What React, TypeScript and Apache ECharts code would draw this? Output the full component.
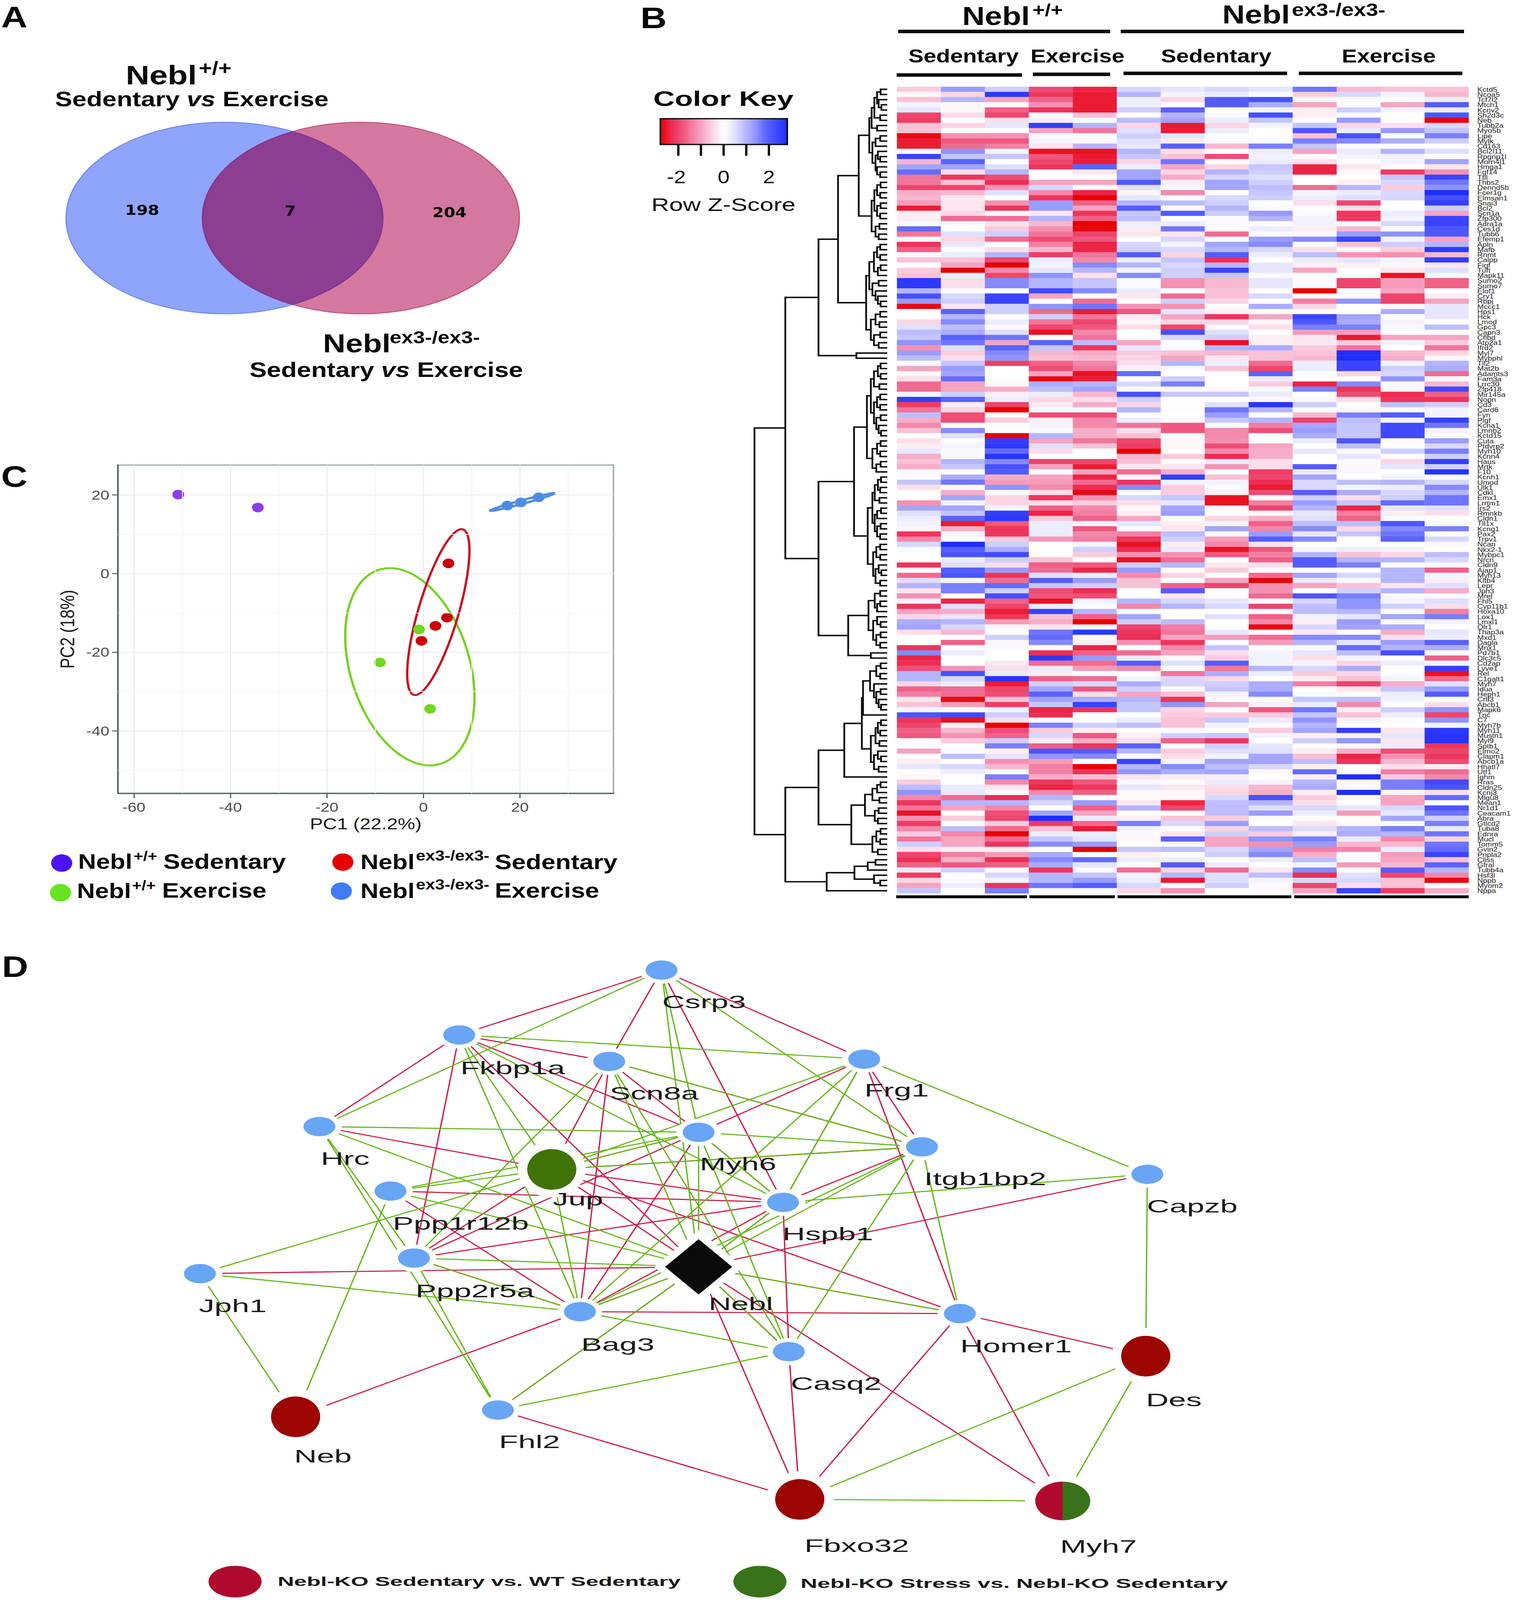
import React, { useEffect, useRef } from "react";
import * as echarts from "echarts";

const W = 3877;
const H = 4961;
const SANS = "Liberation Sans";

// Panel A
const vennCounts = ["198", "7", "204"];

// Panel C: PCA scores [PC1, PC2]
const pcaSedWT = [[-50.8, 20.1], [-34.3, 16.8]];
const pcaExWT = [[-0.9, -14.2], [-9, -22.6], [1.4, -34.4]];
const pcaSedKO = [[5.2, 2.6], [4.9, -11.2], [2.5, -13.3], [-0.4, -17.1]];
const pcaExKO = [[17.4, 17.3], [20.2, 18.1], [23.9, 19.4]];
// confidence ellipses: centre x, centre y, x half extent, y half extent, phase (deg)
const ellipseSedKO = [3.1, -9.8, 6.45, 21.1, 42];
const ellipseExWT = [-2.8, -23.7, 13.4, 25.1, 108];
const ellipseExKO = [20.5, 18.2, 6.65, 2.25, 12];
const pcaTicksX = [-60, -40, -20, 0, 20];
const pcaTicksY = [-40, -20, 0, 20];
const pcaMinorX = [-50, -30, -10, 10, 30];
const pcaMinorY = [-50, -30, -10, 10];

// Panel B: heat map
const geneLabels = [
  "Kctd5","Ncoa5","Tcf7l2","Mtch1","Kcnv2","Sh2d3c","Neb","Tubb2a","Myo5b","Lipe","Mylk","Cd163","Bcl2l11","Rpgrip1l","Morn4l1","Hmga1","Fgf14","Ttll","Thbs2","Dennd5b","Fcer1g","Elmsan1","Snai3","Bcl2","Scn1a","Zfp300",
  "Adra1a","Ces1d","Tubb6","Efemp1","Apln","Mafb","Rnmt","Calpp","Figf","Tuft","Mapk11","Sumo2","Sumo7","Elof1","Cry1","Rbpj","Mccc1","Hps1","Hck","Lmod","Gpc3","Capn3","Cflbd","Atp2a1","Ifrd2","Myl7",
  "Mybphl","Tll2","Mat2b","Adamts3","Fam3a","Lrrc30","Zfp418","Mir145a","Nopn","Cd3","Card6","Fyn","Pigf","Kcna1","Lmnb2","Kctd15","Cuta","Ptdvrp2","Myh10","Kcnn4","Haus","Mrtk","F10","Kcnh1",
  "Umod","Ulk1","Cdkl","Emx1","Lrrtm1","Irs2","Rmnkb","Cldn1","Tll1x","Kcnq1","Pax2","Trpv1","Ncan","Nkx2-1","Mybpc1","Nrcn","Cldn9","Ajap1","Myh13","Kltb4","Lepr","Jph3","Mrel","Fhl5","Cyp11b1","Hoxa10",
  "Lox1","Lmxl1","Olr1","Thap3a","Mxd1","Dagla","Mnx1","Pd7b1","Dlc3c5","Cd2ap","Lyve1","Rel","C1galt1","Myh7","Idua","Heph1","Crlf3","Abcb1","Mapk6","Tnc","C7","Myh7b","Myh11","Mustn1","Myl9","Sptb1",
  "Elmo2","Clapm1","Abcb1a","Hhatl7","Utf1","Ighm","Rras","Cldn25","Kcnj3","Mlgu8","Mean1","Nr1d1","Ceacam1","Abra","Gtlcd2","Tuba8","Ednra","Mucl","Tomm5","Gvin2","Pnpla2","Cliss","Gfral","Tubb4a","Hsf3l","Nppb","Myom2","Nppa",
];
const columnLabels = ["1","2","3","4","5","6","7","8","9","10","11","12","13"];
const heatValues = [
[-.6,1.3,.7,-1.9,-2.4,.6,.4,.6,.4,1.7,-.8,-.7,-.7],
[-.1,-.5,2.6,-2.2,-2.5,1,.2,.3,.1,-.6,.6,.2,-.8],
[-.7,1,-1,-1.7,-2.5,.3,-.5,2,2.2,-.1,.1,0,.3],
[.2,-.1,-.1,-1.2,-2.5,.3,0,2,1.1,-1,0,-1,2],
[.4,-.1,-1.7,-2.2,-2.5,.7,1.9,0,.2,-.2,.7,.2,.3],
[-2,-.4,-2,0,-.7,0,1,.1,2.2,-.2,0,0,2.1],
[-2.1,.05,-.4,-.2,.05,.9,1.2,.3,.8,0,1.3,0,-3],
[-.7,-.5,.4,2.5,1,-.5,-2.5,-.5,.2,.8,-.5,-.4,.6],
[-.7,0,0,-1,-1.5,.5,-2.5,.3,0,2.1,.3,1.3,.8],
[-2.7,-1.2,-1.2,.1,0,.7,.4,0,0,-.7,2.2,.05,1.6],
[-2.5,-1.8,-1.8,.2,-.1,.5,-.2,.1,.1,1.6,1.5,1.1,.7],
[-2.5,-1.6,-1.4,-.3,1,.4,1.9,-.8,1.6,.8,.1,0,0],
[.1,1.4,.2,-2.6,-2.6,1,-.4,-.05,.3,-1,.3,1,.5],
[2.4,.8,.8,-1.8,-2.5,.8,-.7,-1.9,.2,-.05,.2,.2,0],
[-.8,1.9,0,-2,-2.5,-.5,1.7,0,.3,-.4,0,.2,1.2],
[1.2,1.2,.5,-2.2,1.9,.3,-1,-.5,.8,-2.4,-.3,-.05,-.3],
[1.8,-.4,1,0,-.3,1.2,-.5,1,.7,-2.4,-.1,-2.1,-1.2],
[-1.5,-2.2,-1.9,0,0,1.2,-.9,.6,.5,0,0,.8,2.4],
[-1.5,-.7,-2.3,-1,-1,2.1,-.2,1.2,.7,0,-.2,.6,1.7],
[-2,-2,-1.2,.6,0,.5,.1,1.2,.9,-1.6,1,-.6,1.4],
[-.9,-.8,.5,-1.3,-2.4,-.1,-1.3,0,.8,.2,.3,.6,2.8],
[-.8,-.3,0,-2.2,-2.9,.4,0,.6,.7,.3,.5,.6,2.2],
[-1.1,-.3,-1.2,1.3,-1.7,1,.9,.7,0,-.4,-2,0,2.5],
[-2.5,-.3,-2.2,1.3,-1,2,0,1,.1,0,-.4,0,.7],
[-.2,-.5,.2,-.3,-2.2,.8,2,.7,1.3,.1,-2.2,.3,-1],
[-.2,-1.6,-1.6,1,-1.7,.9,0,.1,1,.2,-2.1,.2,2.4],
[.1,-.1,-.4,-.8,-3,.3,.3,.1,-.05,.2,-.1,.6,2.4],
[1.8,0,-.6,-1.2,-2.7,-.2,1.7,0,.3,-.2,-.8,0,2.1],
[-1.5,.5,.7,-1.5,-2,-.3,-.3,-1.6,.1,.1,1.3,1.4,2.1],
[.1,-.5,-1.6,-1.9,-1.8,0,.6,0,1.3,1.5,2.4,.2,-1],
[-2.2,.4,0,-1.4,-2.4,.6,.2,1.2,1.5,0,-.7,.7,1],
[-1.7,.05,-.4,-.8,-2.4,.7,.6,1,.6,-.4,-.1,-.6,2.6],
[.1,.3,1,-2.1,-1.5,2,-.5,2,.3,.9,-1.2,-1.2,-.8],
[-.7,-.7,-2,.3,-1.3,.3,.8,-2.3,0,.3,.4,.2,2.5],
[0,-1,-3.2,.2,1.5,1,.6,1,.4,-.2,-.2,-.1,-.3],
[-.6,-2.8,-1.3,.4,1,.2,.7,2.4,.4,-1,0,-.3,.5],
[-.7,.3,-2,1.4,-.4,1.5,.7,.8,.1,0,0,-2.6,-.1],
[2.6,-.4,1.5,1,.8,.1,-1.2,-.8,.4,.1,-2,-1.1,-1.7],
[2.6,-.4,1.5,1,.8,.1,-1.2,-.8,.4,.1,-2,-1.1,-1.7],
[1,-.05,0,2.3,1.5,.3,0,-.7,0,-3,0,-1,0],
[2.2,.6,2.4,-1,0,-.3,-1.6,-.7,.6,-.1,-.05,-2,-.2],
[1.3,.7,2.4,-.05,-1.6,-.05,.7,-.5,0,-1.4,1.4,-2,-1],
[-2.7,-.3,.7,1.4,1.7,-1.2,-1.2,-.05,1.1,-.5,0,-.1,.4],
[0,1.9,.7,-1.6,-2.5,-1.8,.4,-.2,0,0,0,1.1,.4],
[0,1,0,.7,-1.5,-.2,-1,-2.2,-1,2.4,1.2,0,.4],
[-.5,1.5,.3,-1.5,-2,-.1,-.5,-.5,-.1,2.1,1.1,.2,0],
[.5,.9,-.05,-2,-1.8,-.4,-2,.1,-.4,1.6,1.6,.1,.9],
[.9,1.1,.5,-2.6,-1.3,0,2.2,.5,0,-1.1,-1.1,0,0],
[.8,1.9,1.7,0,-1.5,0,.6,.7,-.2,-.3,-2.5,-1,-1],
[1.4,1.7,-1,1.9,.9,-1,0,-2.6,-.2,-.3,-.6,.2,-.6],
[-1.2,.5,1.9,.8,-2.2,.4,.1,1,1.1,-.6,-1.5,0,-1.5],
[1.3,-.6,1.5,-.8,-.9,-.6,-.7,-.8,-.7,-.7,2.8,-.8,-.5],
[.9,-.4,1.4,-.7,-.8,-.5,-1,-.3,-.7,-.8,2.9,-.9,-.1],
[-.05,.8,-2.1,-1.7,-1.3,-.4,1,.3,-1.6,.3,2.4,.2,1],
[-1,1.3,0,-1.9,-1.5,.2,.1,-.7,-2,.3,2.4,.7,1.1],
[-.1,1.2,0,-1,-2.6,1.8,0,0,1.9,0,-.5,.6,-1.6],
[-.4,1.8,.05,-2.7,-2.5,.05,.7,0,.3,0,0,1.4,.1],
[-1.6,-1,-.1,1.1,1,.6,1.6,0,-.6,-2.4,1.5,.1,-.8],
[-1.6,-1,-.9,.9,1.2,.05,-.1,-.1,.1,1.6,-2.2,-.1,2.3],
[.2,.7,-.2,.3,-.8,2.2,.8,.8,.3,0,-1.9,-2.3,-1.7],
[2.5,1.9,.3,-.5,-.4,.7,0,0,-.1,.1,-.4,-2.2,-2.2],
[-2.1,-.2,-2,-.3,-.9,-.5,0,.5,2.7,.7,0,.9,.7],
[-1.5,-.5,-3,.1,.1,1,.05,1.7,1,0,.1,.05,.2],
[.9,-1.9,0,-1.9,-1.9,0,0,1.3,0,-.8,1.6,2,.2],
[-.9,-1.9,-.6,-.2,-1.3,.3,.05,.8,1,-2,.9,.2,2.5],
[-1.3,0,.05,.2,-1.3,-1.5,-1.8,.05,-1.4,1.2,.8,2.3,1.7],
[-.7,1.5,0,.1,-.9,-.4,-1.8,-1.3,-1.9,1.3,.8,2.3,.2],
[0,.5,-2.8,1,-.9,-.7,-.1,-1.3,0,1.1,.8,2.3,0],
[-.4,0,2.5,-1,-1.5,-2,-.1,-1.2,0,.3,2.1,-.05,1.3],
[-.2,.2,2.6,.5,-.7,-2.1,-.1,-1.9,-1,0,.9,0,.6],
[.4,.1,1.8,-.4,0,-3,-.05,-1.3,-.9,.4,.1,.7,1.6],
[-.9,.1,2.7,0,0,-.8,-.6,-2.3,-.9,0,.4,0,.7],
[-.7,1,1.5,-2,-2,-.7,-.05,.3,-.4,0,.1,-.5,2.5],
[-.9,.8,2.2,-1,-2.5,-.3,-.3,-1.2,-.4,2,-.1,.4,.7],
[-.1,0,2,.1,-1,-1.6,-.9,-.05,-2.1,.3,.1,0,2.7],
[0,1.1,-.9,-1,-2.4,.1,2.5,-.7,-2,1.2,0,.2,.1],
[.8,1.7,-1.1,-1.1,-1.6,-2.2,.2,.2,-2.3,.6,.9,1,.6],
[-.4,.1,1.4,-1.3,-2.3,1.5,-.6,.1,-2.5,.6,.2,.3,1.5],
[0,-.9,.1,-.4,-2.7,0,-.6,.2,-1.9,2,1.1,.6,1],
[0,1.2,-.5,-2.2,-1.2,.6,.8,-2.6,0,.7,-.4,.7,1.7],
[-1.2,.2,-.5,-.4,-.6,-.4,.4,-2.6,-1.4,1.3,.8,1.8,1.7],
[1.2,1.2,.2,-1.7,-1.3,-.1,1.2,-.1,-2,1,-2.4,.4,.5],
[.5,.8,2.5,-2.4,-1.4,-.2,1.3,0,-.1,.4,-1.4,-.2,-.4],
[.3,1.9,2.6,-.6,-1.7,-1,0,-.5,-.9,.5,-1.7,.1,0],
[.2,-2.5,-1.8,.3,.1,.4,-.2,.2,-1.7,.9,.9,2.1,.1],
[-.1,-.9,-2.2,.3,-1.8,.1,-.3,1.2,-1.3,1.5,-.5,1.5,1.6],
[-2.2,.2,-2.2,.3,-1.3,-1.4,.9,.1,1.3,.4,.8,1.7,0],
[-1.3,.05,-.6,-1.1,-1.4,-2.2,.7,-1.1,2,1.5,0,1.9,.6],
[.6,2.9,.7,0,.2,-2.6,-.2,-1.3,-.3,0,0,0,-.1],
[.1,2,1.1,0,.7,-2.3,.3,-2.6,-1.8,.2,.3,.2,0],
[0,2.2,2.3,-.05,-.6,-1.2,-1.2,-1.8,-1.4,1,-.7,-.5,.9],
[0,.3,.7,-.7,0,-2.6,-1.6,0,-1.7,2,1,1,.6],
[-2.2,.5,-.4,-1.7,-1.8,.7,1,-.3,-.4,2,1.6,.1,.1],
[0,2,1.3,-1.6,-2.4,1.3,-.05,-.6,0,0,0,1,-1.7],
[-1.6,2.1,-2.2,.5,.3,-1.3,-.5,0,-1.6,1.2,.6,1,.2],
[.5,.1,-1.6,2,1.3,-.7,0,-1,-2.8,.3,.1,1,-.2],
[1,1.6,1.8,.8,.7,-.7,-1.7,-2,-1.2,-1,-.7,-.3,.5],
[-.3,1.6,.7,-1.9,-2.3,0,2,0,-1.2,0,.7,1,-.9],
[-1.2,0,2.2,-1.8,-1.9,0,-.3,-.05,-1.6,2.1,1.6,.1,.1],
[.2,-2.4,-1.7,-2.6,.2,1,.6,.4,0,.6,1.4,.2,.5],
[-2.2,.5,-2,.3,.05,-1.3,1,.6,-2,.9,1.4,.7,-.4],
[-1,-.9,-2.5,2.4,1,0,0,0,0,.9,1,.1,-1.4],
[-.5,.4,-2.2,-.7,-1.7,1.2,0,.5,-1.7,.2,.4,1.2,1.6],
[1.1,1,-1.1,-.9,-2.9,.7,.9,0,-1.3,-.2,1.3,.1,.2],
[1.2,.6,.1,-.3,.1,-2,-1.4,0,-2.7,.6,1.2,1.1,0],
[-.4,-.8,0,1.7,2.6,-2.2,-1.5,.4,0,-.3,0,-.9,.4],
[0,0,.7,1.8,-.05,-2.3,-1,-1.1,-1.6,1.5,1.5,-.4,.3],
[0,-1.7,-.1,1.5,-.2,-1.2,-2.2,.05,-1.1,1,.4,1.3,1.9],
[-2.2,0,.1,0,-2.4,0,-1.3,.8,0,.1,1.8,1,1.1],
[1.5,.3,0,-2.3,-1.7,-1.6,-1,-.4,.2,.4,.9,2.2,0],
[-2.4,0,0,2.6,1.3,.3,-.1,-.6,.2,-.4,.2,0,-1.7],
[-2.3,0,-.3,-1.6,-1.6,2,.5,2,.2,.2,-.5,.3,.2],
[-1.9,-1.2,-.4,.3,-1.1,-1.3,0,-1.5,1,.6,1.1,0,2.5],
[1,2.2,.3,-.2,0,0,-1.5,1.1,.3,-.6,-.5,0,-2.6],
[1,.6,2.7,-1.7,-1.6,.2,.6,-.5,0,-.2,-.7,.2,-1.6],
[-.5,.3,-2.5,.7,.6,1.1,.6,.7,1.1,-1.4,-2,-.9,.5],
[-1.7,-1.6,-2,1.2,-1.8,.7,-.1,.8,1.1,0,-.3,.8,1.3],
[-1.4,-1.6,-1.9,1.9,-.4,-1,-.7,.2,1.5,.1,0,.3,2],
[-.3,-2.7,-.7,1.2,1.1,1,-2.2,0,0,.8,.9,.2,0],
[-.7,-1.1,-2.1,.8,2.4,.8,1.4,-1,.2,.3,-1.3,0,-.4],
[.2,0,.2,-2.4,-2.2,.8,-.5,0,-1.8,1.7,-.2,.7,1.4],
[2.1,2.3,.7,-2.3,0,0,-.6,-.6,-.6,.8,-.7,.3,-2],
[-2.2,-2.6,-.4,.05,0,.3,-.7,.8,.3,1.4,.2,.05,1.4],
[-2,-.2,-2.9,1.6,.7,.9,-.7,.2,.1,1,0,0,.2],
[-1.7,-.8,-1.9,-.6,-.2,0,.05,0,-.6,1.2,2.5,-.3,2.6],
[-1.8,-1.2,-1.7,.6,-1.8,-.2,.7,.8,.2,-.2,.2,.4,2.7],
[0,-.6,.7,-.2,-.9,-.4,-1.7,-2.2,0,.7,1.4,-.3,2.7],
[0,.05,1.6,-1.7,-2.2,1.9,.1,.7,.4,0,-.1,.3,-2.2],
[-1,.05,-.2,2.1,2,1,-.6,.5,.5,-.2,-.9,-1.9,-2],
[0,.9,.4,1.4,1.5,.1,-.4,.2,1.2,-.7,-2.4,-1.2,-2.2],
[-.2,0,-1.2,-1.1,0,2.4,.2,1.2,1.2,.9,-2.2,-.8,-1.9],
[.4,.6,-.8,-1.4,-3,1,1.5,.9,.6,-.2,0,-.4,-.2],
[-.05,.3,.05,-1.4,-2.2,1.4,1.1,1.2,-.1,1.8,-.1,-1.4,-1.6],
[-.1,-.05,1.6,-.9,-.7,-.3,-.2,-.2,0,-.2,2.9,-.6,-1.3],
[-.6,0,-1.3,-2.2,-1.8,.1,.1,.3,.2,1,-.1,1.6,2.3],
[.9,.3,-.3,-2.4,-2.2,.4,-.3,-.4,-.8,1.1,0,1.6,2.1],
[1.4,.4,.1,-1.3,-1.7,-.1,-.1,-.5,-.9,-.2,2.8,-.1,-.4],
[-1.3,-1.6,-2.3,1,.1,-.05,-.1,.6,2.2,-.6,.1,-1,1.8],
[-2.2,1,1,.6,1.3,-.3,-2.4,.9,1,-.4,0,-1,0],
[-1.5,-1,-1.3,-.05,-1.7,1,-2,.9,.5,.6,.4,.6,2.1],
[-2.6,0,-1.9,1.2,-1,0,0,.9,1.3,.3,-1.1,.4,1.7],
[-1.2,-.6,-2,2.8,.3,-.2,-.7,-.6,-.05,-.05,0,1.2,.7],
[-2.1,0,-.6,-2.1,-1.6,1.6,.6,1.3,0,-.3,.1,.1,1.6],
[-1.3,.9,-1.6,-.7,-2.5,.2,-.05,-.5,.9,.5,1,1.6,.3],
[-.6,-1.3,-3,.3,.3,.1,-.3,.7,-.6,-.2,1.1,1,1.7],
[-1.5,-1,-1.6,.8,.4,-.1,1.9,-1,1.4,1.6,.3,-1.3,-.5],
[.7,-1,-2.2,1.5,1.3,0,.1,-1,-1.2,1.3,-.8,-.8,1.7],
[-.4,-.2,-.2,0,-2.8,.8,.9,.6,1.2,-1.4,-1.3,.3,1.8],
[-2,-1.4,-1.1,1.1,0,-.2,.05,.7,1.5,-.9,0,-1.1,2.4],
[-2.3,-.9,-2.3,1.5,1.8,.3,.3,0,.3,.9,.1,-1,-.7],
[-1.7,-1.8,-1.7,1.1,.4,0,2,.3,0,.2,-1.1,-.8,1.9],
[.3,.7,0,-2.2,-.05,-1.6,-.5,-1.6,-.3,1.5,0,2,1],
[-2.1,0,.6,1,.8,.2,1,.5,.9,-2.3,.5,-2,-1.3],
[-.5,.1,.2,1,1.3,.3,-2.5,.5,.2,.6,.6,-.7,-2.7],
[-1,.3,-2.2,1.7,2,.6,-.05,.7,.1,-2,-.4,-.7,0],
[.8,0,1.6,.05,.1,-.5,-1.2,0,-.1,-1,2.4,-2.1,-.9],
];
const heatRamp = ["#e60000","#ee2a50","#ee5078","#f27fa3","#f6aac6","#fbd8e6","#ffffff","#e2e2ff","#baBaff","#9094ff","#5c64ff","#3f48ff","#1e2eff"];
const keyTicks = [-2, -1, 0, 1, 2];
const keyLabels = [-2, 0, 2];

// Row dendrogram: [height, left, right]; a leaf is a 1-based row number
const cluster1 = [46,[40,[33,[26,[17,1,2],[22,3,[15,4,5]]],[18,6,7]],[26,8,9]],[38,[30,[18,10,11],12],[30,[24,13,[18,14,15]],[26,16,[18,17,18]]]]];
const cluster2 = [40,[33,[26,[17,19,20],[18,21,22]],[26,[17,23,24],[18,25,26]]],[30,[20,27,28],[22,29,30]]];
const cluster3 = [46,[34,[26,[18,31,32],[18,33,34]],[24,[17,35,36],37]],[38,[22,38,39],[30,40,[24,41,[17,42,43]]]]];
const cluster4 = [42,[30,[18,44,45],[20,46,47]],[34,[18,48,49],[22,50,51]]];
const cluster5 = [52,[42,[34,[24,[17,54,55],[17,56,57]],[20,58,59]],[34,[26,[18,60,61],[18,62,63]],[28,[17,64,65],[22,66,[16,67,68]]]]],[38,[26,[17,69,70],[18,71,72]],[28,[17,73,74],75]]];
const cluster6 = [50,[38,[32,[24,[16,76,77],[18,78,79]],[20,80,81]],[32,[26,[16,82,83],84],[26,[17,85,86],[18,87,88]]]],[36,[28,[18,89,90],[18,91,92]],[30,[22,93,[15,94,95]],[18,96,97]]]];
const cluster7 = [48,[32,[18,98,99],[26,[18,100,101],102]],[36,[26,103,[17,104,105]],[28,[17,106,107],[18,108,109]]]];
const cluster8 = [62,[44,[28,[17,112,113],[18,114,115]],[34,116,[28,[17,117,118],[22,119,[16,120,121]]]]],122];
const cluster9 = [42,[30,[24,[16,123,124],[18,125,126]],[20,127,128]],[34,[24,129,[16,130,131]],[22,132,133]]];
const cluster10 = [57,[38,[26,[17,135,136],137],[20,138,139]],[32,[22,140,141],[24,142,143]]];
const cluster11 = [38,[28,[17,144,145],[18,146,147]],[24,148,149]];
const cluster12 = [84,[50,[30,150,151],152],[34,153,[18,154,155]]];
const rowTree = [340,
  [261,
    [176,[126,[73,cluster1,cluster2],[54,cluster3,cluster4]],[79,52,53]],
    [176,[85,cluster5,cluster6],[100,cluster7,[42,110,111]]]],
  [261,
    [176,[110,[65,cluster8,cluster9],134],[92,cluster10,cluster11]],
    [155,cluster12,156]]];

// Panel D: network
const netBlue = ["Csrp3","Fkbp1a","Scn8a","Frg1","Hrc","Myh6","Itgb1bp2","Ppp1r12b","Hspb1","Capzb","Ppp2r5a","Jph1","Bag3","Homer1","Casq2","Fhl2"];
const netX: Record<string, number> = {Csrp3:1694,Fkbp1a:1176,Scn8a:1560,Frg1:2213,Hrc:818,Myh6:1789,Itgb1bp2:2361,Ppp1r12b:1000,Hspb1:2005,Capzb:2938,Ppp2r5a:1060,Jph1:512,Bag3:1485,Homer1:2458,Casq2:2020,Fhl2:1275,Jup:1413,Nebl:1789,Neb:757,Des:2934,Fbxo32:2048,Myh7:2721};
const netY: Record<string, number> = {Csrp3:3008,Fkbp1a:3209,Scn8a:3291,Frg1:3284,Hrc:3493,Myh6:3511,Itgb1bp2:3556,Ppp1r12b:3693,Hspb1:3728,Capzb:3641,Ppp2r5a:3901,Jph1:3949,Bag3:4067,Homer1:4073,Casq2:4191,Fhl2:4372,Jup:3626,Nebl:3928,Neb:4393,Des:4205,Fbxo32:4649,Myh7:4654};
const netRed = [
  ["Csrp3","Fkbp1a"],["Fkbp1a","Hrc"],["Csrp3","Scn8a"],["Csrp3","Hspb1"],["Csrp3","Frg1"],["Fkbp1a","Scn8a"],["Fkbp1a","Myh6"],["Fkbp1a","Ppp2r5a"],["Fkbp1a","Nebl"],
  ["Scn8a","Jup"],["Scn8a","Bag3"],["Scn8a","Myh6"],["Scn8a","Itgb1bp2"],["Hrc","Jup"],["Frg1","Myh6"],["Frg1","Hspb1"],["Frg1","Homer1"],["Frg1","Itgb1bp2"],
  ["Myh6","Hspb1"],["Myh6","Jup"],["Myh6","Ppp2r5a"],["Myh6","Bag3"],["Jup","Ppp2r5a"],["Jup","Nebl"],["Jup","Hspb1"],["Jup","Itgb1bp2"],["Jup","Homer1"],
  ["Ppp1r12b","Hspb1"],["Ppp1r12b","Bag3"],["Jph1","Nebl"],["Ppp2r5a","Bag3"],["Ppp2r5a","Hspb1"],["Bag3","Neb"],["Bag3","Nebl"],["Bag3","Homer1"],["Bag3","Hspb1"],
  ["Fhl2","Nebl"],["Fhl2","Fbxo32"],["Nebl","Hspb1"],["Nebl","Capzb"],["Nebl","Homer1"],["Nebl","Casq2"],["Nebl","Fbxo32"],["Nebl","Myh7"],["Hspb1","Itgb1bp2"],
  ["Hspb1","Casq2"],["Homer1","Des"],["Homer1","Fbxo32"],["Homer1","Myh7"],["Casq2","Fbxo32"],
];
const netGreen = [
  ["Csrp3","Hrc"],["Csrp3","Myh6"],["Csrp3","Nebl"],["Csrp3","Itgb1bp2"],["Fkbp1a","Frg1"],["Fkbp1a","Hspb1"],["Fkbp1a","Bag3"],["Fkbp1a","Jup"],["Scn8a","Ppp2r5a"],
  ["Scn8a","Nebl"],["Scn8a","Itgb1bp2"],["Scn8a","Casq2"],["Hrc","Myh6"],["Hrc","Nebl"],["Hrc","Ppp2r5a"],["Hrc","Fhl2"],["Frg1","Jup"],["Frg1","Bag3"],["Frg1","Capzb"],
  ["Frg1","Hspb1"],["Myh6","Itgb1bp2"],["Myh6","Nebl"],["Myh6","Casq2"],["Myh6","Hspb1"],["Jup","Ppp1r12b"],["Jup","Jph1"],["Jup","Bag3"],["Jup","Itgb1bp2"],["Jup","Myh6"],
  ["Ppp1r12b","Nebl"],["Ppp1r12b","Neb"],["Ppp1r12b","Myh6"],["Jph1","Bag3"],["Jph1","Neb"],["Ppp2r5a","Bag3"],["Ppp2r5a","Nebl"],["Ppp2r5a","Fhl2"],["Bag3","Casq2"],
  ["Bag3","Nebl"],["Bag3","Itgb1bp2"],["Fhl2","Nebl"],["Fhl2","Casq2"],["Nebl","Itgb1bp2"],["Nebl","Homer1"],["Nebl","Casq2"],["Hspb1","Capzb"],["Hspb1","Nebl"],
  ["Itgb1bp2","Homer1"],["Itgb1bp2","Casq2"],["Capzb","Des"],["Des","Fbxo32"],["Des","Myh7"],["Fbxo32","Myh7"],
];

// drawn text of the network, with centre of each label
const netLabels: [string, number, number][] = [
  ["Csrp3",1803,3106],["Fkbp1a",1313,3311],["Scn8a",1675,3389],["Frg1",2296,3380],["Hrc",884,3592],["Myh6",1890,3609],["Itgb1bp2",2523,3655],["Jup",1480,3718],
  ["Ppp1r12b",1180,3793],["Hspb1",2120,3825],["Capzb",3053,3739],["Ppp2r5a",1216,4002],["Nebl",1897,4042],["Jph1",596,4048],["Bag3",1582,4168],["Homer1",2602,4173],
  ["Casq2",2141,4289],["Des",3006,4340],["Neb",827,4515],["Fhl2",1356,4470],["Fbxo32",2194,4792],["Myh7",2813,4794],
];

echarts.graphic.registerShape("vennLens", echarts.graphic.extendPath("M749.5 408 A406 297 0 0 1 749.5 944 A406 297 0 0 1 749.5 408 Z", {}));
echarts.graphic.registerShape("halfRight", echarts.graphic.extendPath("M0 -59 A71 59 0 0 1 0 59 Z", {}));

type TextOpts = { sx?: number; fill?: string; ff?: string; bold?: boolean; italic?: boolean; align?: string; rot?: number };
// text placed by its baseline
function T(text: string, x: number, base: number, size: number, o: TextOpts = {}) {
  return {
    type: "text", x, y: base - 0.35 * size, scaleX: o.sx ?? 1, z: 100, silent: true,
    style: {
      text, fill: o.fill ?? "#0a0a0a", fontFamily: o.ff ?? SANS, fontSize: size,
      fontWeight: o.bold ? "bold" : "normal", fontStyle: o.italic ? "italic" : "normal",
      align: o.align ?? "left", verticalAlign: "middle", textAlign: o.align ?? "left", textVerticalAlign: "middle",
    },
  };
}
const B = (text: string, x: number, base: number, size: number, o: TextOpts = {}) => T(text, x, base, size, { bold: true, ...o });
const bar = (x1: number, x2: number, y1: number, y2: number) => ({ type: "rect", z: 100, silent: true, shape: { x: x1, y: y1, width: x2 - x1, height: y2 - y1 }, style: { fill: "#0a0a0a" } });
const dot = (cx: number, cy: number, r: number, fill: string) => ({ type: "circle", z: 100, silent: true, shape: { cx, cy, r }, style: { fill } });

function flattenTree(node: any, out: number[][]): [number, number] {
  if (typeof node === "number") return [node - 0.5, 0];
  const [h, a, b] = node;
  const [ya, ha] = flattenTree(a, out);
  const [yb, hb] = flattenTree(b, out);
  out.push([ya, ha, yb, hb, h]);
  return [(ya + yb) / 2, h];
}

function buildOption() {
  const merges: number[][] = [];
  flattenTree(rowTree, merges);
  const heatData: number[][] = [];
  heatValues.forEach((row, r) => row.forEach((v, c) => heatData.push([c, r, v])));

  const nodeNames = Object.keys(netX);
  const nodes = nodeNames.map((name) => {
    const value = [netX[name], netY[name]];
    if (netBlue.includes(name)) return { name, value, symbol: "circle", symbolSize: [98, 72], itemStyle: { color: "#68a5f5", borderColor: "#fff", borderWidth: 14 } };
    if (name === "Nebl") return { name, value, symbol: "diamond", symbolSize: 200, itemStyle: { color: "#0a0a0a", borderColor: "#fff", borderWidth: 20 } };
    if (name === "Jup") return { name, value, symbol: "circle", symbolSize: 150, itemStyle: { color: "#3f7308", borderColor: "#fff", borderWidth: 24 } };
    if (name === "Myh7") return { name, value, symbol: "circle", symbolSize: [166, 142], itemStyle: { color: "#b00a2e", borderColor: "#fff", borderWidth: 24 } };
    return { name, value, symbol: "circle", symbolSize: 150, itemStyle: { color: "#9c0500", borderColor: "#fff", borderWidth: 24 } };
  });
  const links = [
    ...netRed.map(([source, target]) => ({ source, target, lineStyle: { color: "#cc1f4a", width: 3.5, opacity: 1 } })),
    ...netGreen.map(([source, target]) => ({ source, target, lineStyle: { color: "#66b81c", width: 3.5, opacity: 1 } })),
  ];

  const ellipseItem = (params: any, api: any, stroke: string, width: number) => {
    const [cx, cy, X, Y, phase] = [api.value(0), api.value(1), api.value(2), api.value(3), api.value(4)];
    const pts: number[][] = [];
    for (let d = 0; d <= 360; d += 4) {
      const t = (d * Math.PI) / 180;
      pts.push(api.coord([cx + X * Math.cos(t), cy + Y * Math.cos(t - (phase * Math.PI) / 180)]));
    }
    return { type: "polyline", shape: { points: pts }, style: { stroke, fill: "none", lineWidth: width } };
  };
  const ellipseSeries = (name: string, values: number[], stroke: string, width: number) => ({
    type: "custom", name, xAxisIndex: 0, yAxisIndex: 0, silent: true, z: 3,
    data: [values], encode: { x: 0, y: 1 }, dimensions: ["cx", "cy", "X", "Y", "phase"],
    renderItem: (p: any, api: any) => ellipseItem(p, api, stroke, width),
  });
  const scatter = (name: string, data: number[][], color: string, extra: any = {}) => ({
    type: "scatter", name, data, xAxisIndex: 0, yAxisIndex: 0, symbolSize: 30, z: 4, itemStyle: { color, opacity: 1 }, ...extra,
  });
  const tickLabel = { color: "#4d4d4d", fontFamily: SANS, fontSize: 41 };
  const pcaName = { color: "#1a1a1a", fontFamily: SANS, fontSize: 50 };

  const keyX = (v: number) => 1853 + 58 * v;

  const graphic = [
    // panel letters
    B("A", 3, 85, 93), B("B", 1640, 88, 93), B("C", 3, 1510, 93), B("D", 5, 3030, 93),
    // panel A
    { type: "ellipse", z: 90, silent: true, shape: { cx: 575, cy: 676, rx: 406, ry: 297 }, style: { fill: "#8fa4fb", stroke: "#6f88f0", lineWidth: 3 } },
    { type: "ellipse", z: 91, silent: true, shape: { cx: 924, cy: 676, rx: 406, ry: 297 }, style: { fill: "#d4789f", stroke: "#c2507c", lineWidth: 3 } },
    { type: "vennLens", z: 92, silent: true, style: { fill: "#8c3f92", stroke: "#7d3690", lineWidth: 3 } },
    B("Nebl", 322, 261, 84), B("+/+", 509, 232, 58),
    B("Sedentary", 141, 330, 66), B("vs", 478, 330, 66, { italic: true }), B("Exercise", 570, 330, 66),
    B("Nebl", 827, 1093, 80), B("ex3-/ex3-", 998, 1065, 54),
    B("Sedentary", 639, 1169, 66), B("vs", 976, 1169, 66, { italic: true }), B("Exercise", 1068, 1169, 66),
    B(vennCounts[0], 364, 666, 42, { ff: "DejaVu Sans", align: "center" }),
    B(vennCounts[1], 743, 668, 42, { ff: "DejaVu Sans", align: "center" }),
    B(vennCounts[2], 1151, 673, 42, { ff: "DejaVu Sans", align: "center" }),
    // panel C legend
    dot(158, 2676, 27, "#4a14f5"), dot(878, 2673, 27, "#e60000"), dot(155, 2768, 27, "#66e51f"), dot(874, 2763, 27, "#3f7cf5"),
    B("Nebl", 200, 2694, 64), B("+/+", 342, 2670, 42), B("Sedentary", 418, 2694, 65),
    B("Nebl", 197, 2784, 64), B("+/+", 338, 2760, 42), B("Exercise", 415, 2784, 65),
    B("Nebl", 923, 2695, 64), B("ex3-/ex3-", 1065, 2668, 44), B("Sedentary", 1267, 2695, 65),
    B("Nebl", 923, 2784, 64), B("ex3-/ex3-", 1065, 2758, 44), B("Exercise", 1267, 2784, 65),
    // panel B headers
    B("Nebl", 2464, 78, 80), B("+/+", 2644, 50, 54),
    B("Nebl", 3130, 73, 80), B("ex3-/ex3-", 3308, 50, 56),
    bar(2300, 2843, 92, 103), bar(2870, 3749, 92, 103),
    B("Sedentary", 2326, 193, 58.5), B("Exercise", 2639, 193, 58.5), B("Sedentary", 2973, 193, 58.5), B("Exercise", 3436, 193, 58.5),
    bar(2296, 2617, 227, 238), bar(2645, 2843, 225, 236), bar(2877, 3296, 222, 233), bar(3326, 3745, 222, 233),
    bar(2295, 2630, 2776, 2785), bar(2636, 2855, 2776, 2785), bar(2862, 3307, 2776, 2785), bar(3314, 3761, 2776, 2785),
    // colour key
    B("Color Key", 1673, 328, 65, { sx: 1.17 }),
    { type: "rect", z: 100, silent: true, shape: { x: 1691, y: 368, width: 325, height: 80 }, style: { fill: "none", stroke: "#0a0a0a", lineWidth: 4 } },
    ...keyTicks.map((v) => ({ type: "line", z: 100, silent: true, shape: { x1: keyX(v), y1: 448, x2: keyX(v), y2: 483 }, style: { stroke: "#111", lineWidth: 6 } })),
    ...keyLabels.map((v) => T(String(v), keyX(v) - (v < 0 ? 5 : 0), 568, 55, { align: "center" })),
    T("Row Z-Score", 1668, 654, 56, { sx: 1.13 }),
    // panel D
    { type: "halfRight", x: 2721, y: 4654, z: 100, silent: true, style: { fill: "#38731a" } },
    ...netLabels.map(([s, x, y]) => T(s, x, y + 20, 57, { align: "center", sx: 1.41, fill: "#1a1a1a" })),
    { type: "ellipse", z: 100, silent: true, shape: { cx: 602, cy: 4904, rx: 68, ry: 49 }, style: { fill: "#b00a2e" } },
    { type: "ellipse", z: 100, silent: true, shape: { cx: 1946, cy: 4904, rx: 68, ry: 49 }, style: { fill: "#38731a" } },
    B("Nebl-KO Sedentary vs. WT Sedentary", 711, 4917, 41, { sx: 1.42, fill: "#1a1a1a" }),
    B("Nebl-KO Stress vs. Nebl-KO Sedentary", 2050, 4924, 41, { sx: 1.452, fill: "#1a1a1a" }),
  ];

  const minor = (key: "xAxis" | "yAxis", values: number[]) => values.map((v) => ({ [key]: v }));

  return {
    animation: false,
    backgroundColor: "#ffffff",
    graphic: { elements: graphic },
    grid: [
      { left: 302, top: 1442, width: 1269, height: 1018, show: true, borderColor: "#8d9a9a", borderWidth: 3, backgroundColor: "#fff" },
      { left: 2297, top: 269, width: 1464, height: 2501 },
      { left: 1931, top: 269, width: 341, height: 2501 },
      { left: 0, top: 0, width: W, height: H },
    ],
    xAxis: [
      { gridIndex: 0, type: "value", min: -63.3, max: 39.4, name: "PC1 (22.2%)", nameLocation: "middle", nameGap: 70, nameTextStyle: pcaName,
        axisLine: { show: true, onZero: false, lineStyle: { color: "#4f5f5f", width: 4 } },
        axisTick: { show: true, length: 15, customValues: pcaTicksX, lineStyle: { color: "#4f5f5f", width: 3 } },
        axisLabel: { ...tickLabel, margin: 22, customValues: pcaTicksX, formatter: (v: number) => String(v) },
        splitLine: { show: true, lineStyle: { color: "#ececec", width: 3 } } },
      { gridIndex: 1, type: "category", data: columnLabels, show: false },
      { gridIndex: 2, type: "value", min: 0, max: 341, inverse: true, show: false },
      { gridIndex: 3, type: "value", min: 0, max: W, show: false },
    ],
    yAxis: [
      { gridIndex: 0, type: "value", min: -55.9, max: 27.6, name: "PC2 (18%)", nameLocation: "middle", nameGap: 104, nameTextStyle: pcaName,
        axisLine: { show: true, onZero: false, lineStyle: { color: "#4f5f5f", width: 4 } },
        axisTick: { show: true, length: 15, customValues: pcaTicksY, lineStyle: { color: "#4f5f5f", width: 3 } },
        axisLabel: { ...tickLabel, margin: 22, customValues: pcaTicksY, formatter: (v: number) => String(v) },
        splitLine: { show: true, lineStyle: { color: "#ececec", width: 3 } } },
      { gridIndex: 1, type: "category", data: geneLabels, inverse: true, position: "right",
        axisLine: { show: false }, axisTick: { show: false }, splitLine: { show: false },
        axisLabel: { show: true, interval: 0, fontFamily: SANS, fontSize: 20, color: "#222", margin: 22 } },
      { gridIndex: 2, type: "value", min: 0, max: 156, inverse: true, show: false },
      { gridIndex: 3, type: "value", min: 0, max: H, inverse: true, show: false },
    ],
    visualMap: {
      type: "continuous", seriesIndex: 0, dimension: 2, min: -2.8, max: 2.8, calculable: false, orient: "horizontal",
      left: 1691, top: 368, itemWidth: 80, itemHeight: 325, padding: 0, text: ["", ""], inRange: { color: heatRamp },
    },
    series: [
      { type: "heatmap", name: "Row Z-Score", xAxisIndex: 1, yAxisIndex: 1, data: heatData, progressive: 0, silent: true, itemStyle: { borderWidth: 0 } },
      { type: "custom", name: "Row dendrogram", xAxisIndex: 2, yAxisIndex: 2, data: merges, silent: true, encode: { x: 4, y: 0 },
        dimensions: ["ya", "ha", "yb", "hb", "h"],
        renderItem: (_: any, api: any) => {
          const [ya, ha, yb, hb, h] = [api.value(0), api.value(1), api.value(2), api.value(3), api.value(4)];
          return { type: "polyline", shape: { points: [api.coord([ha, ya]), api.coord([h, ya]), api.coord([h, yb]), api.coord([hb, yb])] }, style: { stroke: "#0a0a0a", fill: "none", lineWidth: 4.5 } };
        } },
      scatter("Nebl+/+ Sedentary", pcaSedWT, "#8a3df0", {
        markLine: { silent: true, symbol: "none", label: { show: false }, lineStyle: { color: "#f3f3f3", width: 2, type: "solid" },
          data: [...minor("xAxis", pcaMinorX), ...minor("yAxis", pcaMinorY)] },
      }),
      ellipseSeries("Nebl+/+ Exercise ellipse", ellipseExWT, "#76d21e", 6),
      ellipseSeries("Neblex3-/ex3- Sedentary ellipse", ellipseSedKO, "#c8111f", 6),
      ellipseSeries("Neblex3-/ex3- Exercise ellipse", ellipseExKO, "#4f8ce6", 7),
      scatter("Nebl+/+ Exercise", pcaExWT, "#70d820"),
      scatter("Neblex3-/ex3- Sedentary", pcaSedKO, "#cc0000"),
      scatter("Neblex3-/ex3- Exercise", pcaExKO, "#4f8ce6"),
      { type: "graph", name: "Network", coordinateSystem: "cartesian2d", xAxisIndex: 3, yAxisIndex: 3, layout: "none", roam: false, silent: true,
        data: nodes, links, label: { show: false }, edgeSymbol: ["none", "none"], z: 5 },
    ],
  };
}

export default function App() {
  const ref = useRef<HTMLDivElement>(null);
  // The browser window can be shorter than the requested page; the whole figure is fitted into it.
  const fit = Math.min(1, (typeof window !== "undefined" ? window.innerHeight : H) / H);
  useEffect(() => {
    document.body.style.margin = "0";
    const chart = echarts.init(ref.current!, undefined, { renderer: "svg" });
    chart.setOption(buildOption() as any);
    return () => chart.dispose();
  }, []);
  return (
    <div style={{ width: W, height: H * fit, overflow: "hidden" }}>
      <div ref={ref} style={{ width: W, height: H, transform: `scale(1, ${fit})`, transformOrigin: "0 0" }} />
    </div>
  );
}
